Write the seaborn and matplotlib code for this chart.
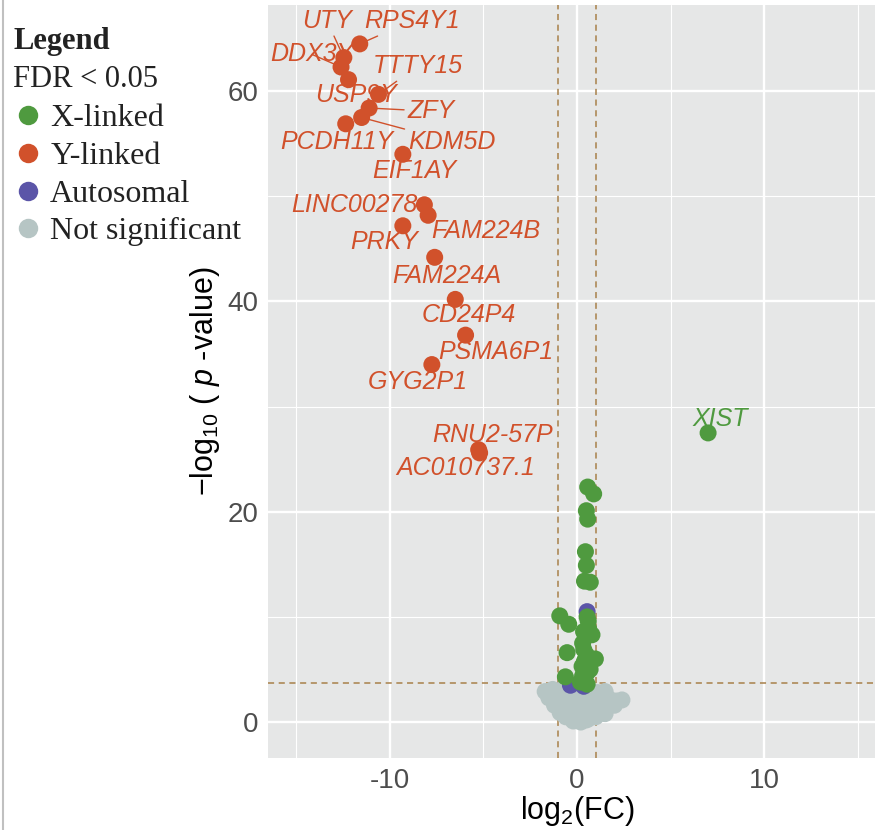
import numpy as np
import pandas as pd
import matplotlib
matplotlib.use('Agg')
import matplotlib.pyplot as plt
from matplotlib.lines import Line2D
import seaborn as sns

# Y-linked genes (FDR < 0.05)
y_genes = ['RPS4Y1', 'UTY', 'DDX3Y', 'USP9Y', 'TTTY15', 'ZFY', 'KDM5D', 'PCDH11Y',
           'EIF1AY', 'LINC00278', 'FAM224B', 'PRKY', 'FAM224A', 'CD24P4',
           'PSMA6P1', 'GYG2P1', 'RNU2-57P', 'AC010737.1']
y_fc = [-11.6, -12.45, -12.6, -12.2, -10.6, -11.1, -11.5, -12.35,
        -9.3, -8.15, -7.95, -9.3, -7.6, -6.5,
        -5.95, -7.75, -5.25, -5.2]
y_logp = [64.5, 63.2, 62.3, 61.1, 59.7, 58.4, 57.5, 56.9,
          54.0, 49.2, 48.2, 47.2, 44.2, 40.2,
          36.8, 34.0, 25.9, 25.6]

# X-linked genes
x_genes = ['XIST']
x_fc = [7.0, 0.57, 0.89, 0.5, 0.57, 0.45, 0.5, 0.4, 0.71, -0.92, -0.44, 0.54, 0.62,
        0.45, 0.8, -0.53, 0.36, 0.62, 0.98, 0.27, 0.54, -0.62, 0.18, 0.54, 0.3,
        0.5, 0.4, 0.7, 0.3, 0.6, 0.35]
x_logp = [27.5, 22.35, 21.7, 20.1, 19.3, 16.2, 14.9, 13.4, 13.3, 10.1, 9.3, 10.0, 8.9,
          8.1, 8.3, 6.6, 6.9, 6.0, 6.0, 5.3, 4.7, 4.3, 3.8, 3.6, 7.5,
          6.4, 5.8, 5.0, 4.4, 9.6, 8.6]

# autosomal genes
a_fc = [0.54, -0.35, 0.36, 0.2, 0.5]
a_logp = [10.5, 3.5, 3.4, 3.7, 5.0]

# not significant
n_fc = [-1.7, -1.3, -0.9, -0.5, -0.1, 0.3, 0.7, 1.1, 1.5,
        -1.5, -1.1, -0.7, -0.3, 0.1, 0.5, 0.9, 1.3, 1.7, 2.1, 2.4,
        -1.2, -0.8, -0.4, 0.0, 0.4, 0.8, 1.2, 1.6, 2.0,
        -0.9, -0.5, -0.1, 0.3, 0.7, 1.1, 1.5,
        -0.6, -0.2, 0.2, 0.6, 1.0,
        -0.2, 0.2, 0.5]
n_logp = [2.9, 3.1, 3.0, 3.2, 2.9, 3.1, 3.0, 2.8, 2.9,
          2.3, 2.1, 2.4, 2.2, 2.0, 2.3, 2.1, 2.4, 2.2, 2.0, 2.1,
          1.6, 1.5, 1.7, 1.4, 1.6, 1.5, 1.7, 1.4, 1.6,
          0.9, 1.0, 0.8, 1.0, 0.9, 1.1, 0.8,
          0.5, 0.4, 0.5, 0.3, 0.5,
          0.1, 0.0, 0.2]

fc_cut = 1
p_cut = 3.7

groups = ['X-linked', 'Y-linked', 'Autosomal', 'Not significant']
colores = {'X-linked': '#4f9a3f', 'Y-linked': '#d1512b',
           'Autosomal': '#5b55a8', 'Not significant': '#b6c5c4'}

# donde van las etiquetas (tipo ggrepel), en unidades de datos
label_pos = {
    'UTY': (-13.35, 66.7), 'RPS4Y1': (-8.8, 66.7), 'DDX3Y': (-14.15, 63.5),
    'TTTY15': (-8.5, 62.4), 'USP9Y': (-11.8, 59.6), 'ZFY': (-7.8, 58.1),
    'PCDH11Y': (-12.85, 55.2), 'KDM5D': (-6.7, 55.2), 'EIF1AY': (-8.7, 52.4),
    'LINC00278': (-11.9, 49.2), 'FAM224B': (-4.85, 46.7), 'PRKY': (-10.3, 45.7),
    'FAM224A': (-6.95, 42.4), 'CD24P4': (-5.8, 38.7), 'PSMA6P1': (-4.35, 35.2),
    'GYG2P1': (-8.5, 32.3), 'RNU2-57P': (-4.5, 27.3), 'AC010737.1': (-5.95, 24.2),
    'XIST': (7.65, 28.8),
}
con_segmento = ['UTY', 'RPS4Y1', 'DDX3Y', 'TTTY15', 'ZFY', 'KDM5D']

df = pd.concat([
    pd.DataFrame({'fc': n_fc, 'logp': n_logp, 'group': 'Not significant'}),
    pd.DataFrame({'fc': a_fc, 'logp': a_logp, 'group': 'Autosomal'}),
    pd.DataFrame({'fc': x_fc, 'logp': x_logp, 'group': 'X-linked'}),
    pd.DataFrame({'fc': y_fc, 'logp': y_logp, 'group': 'Y-linked'}),
], ignore_index=True)

sns.set_style('darkgrid', {'axes.facecolor': '#e6e7e7', 'grid.color': 'white'})
plt.rcParams['font.family'] = ['Liberation Sans', 'DejaVu Sans']
plt.rcParams['mathtext.fontset'] = 'custom'
plt.rcParams['mathtext.rm'] = 'Liberation Sans'
plt.rcParams['mathtext.it'] = 'Liberation Sans:italic'
plt.rcParams['axes.unicode_minus'] = False

fig = plt.figure(figsize=(8.75, 8.3), dpi=100)
ax = fig.add_axes([268 / 875, 72 / 830, 618 / 875, 753 / 830])

sns.scatterplot(data=df, x='fc', y='logp', hue='group', palette=colores,
                s=150, linewidth=0, legend=False, ax=ax, zorder=3)

ax.set_xlim(-16.5, 16.5)
ax.set_ylim(-3.42, 68.2)
ax.set_xticks([-10, 0, 10])
ax.set_yticks([0, 20, 40, 60])
ax.set_xticks([-15, -5, 5, 15], minor=True)
ax.set_yticks([10, 30, 50], minor=True)
ax.grid(which='major', color='white', linewidth=1.7)
ax.grid(which='minor', color='white', linewidth=0.8)
ax.set_axisbelow(True)
for s in ax.spines.values():
    s.set_visible(False)
ax.tick_params(which='major', length=4, width=1, color='#333333',
               labelsize=20, labelcolor='#4d4d4d', pad=3)
ax.tick_params(which='minor', length=0)

# umbrales
for v in [-fc_cut, fc_cut]:
    ax.axvline(v, color='#a8804a', linestyle=(0, (4, 3)), linewidth=1.1, zorder=2)
ax.axhline(p_cut, color='#a8804a', linestyle=(0, (4, 3)), linewidth=1.1, zorder=2)

# etiquetas de genes
todos = dict(zip(y_genes, zip(y_fc, y_logp)))
todos['XIST'] = (x_fc[0], x_logp[0])
for g, (px, py) in todos.items():
    col = colores['X-linked'] if g == 'XIST' else colores['Y-linked']
    tx, ty = label_pos[g]
    ap = None
    if g in con_segmento:
        ap = dict(arrowstyle='-', color=col, lw=1.0, shrinkA=0, shrinkB=5)
    ax.annotate(g, xy=(px, py), xytext=(tx, ty), ha='center', va='center',
                fontsize=18, fontstyle='italic', color=col, arrowprops=ap, zorder=4)

ax.set_xlabel('log$_2$(FC)', fontsize=22, color='black', labelpad=0)
ax.set_ylabel('\u2212log$_{10}$ ( $p$ -value)', fontsize=22, color='black', labelpad=4)

# leyenda a la izquierda, en serif
serif = ['Liberation Serif', 'DejaVu Serif']
fig.text(13 / 875, 1 - 49 / 830, 'Legend', fontsize=22, fontweight='bold',
         family=serif, color='#222222', va='baseline')
fig.text(13 / 875, 1 - 87 / 830, 'FDR < 0.05', fontsize=22,
         family=serif, color='#222222', va='baseline')
handles = [Line2D([], [], marker='o', linestyle='', markersize=14,
                  markerfacecolor=colores[g], markeredgewidth=0) for g in groups]
fig.legend(handles, groups, loc='upper left', bbox_to_anchor=(15 / 875, 1 - 104 / 830),
           frameon=False, prop={'family': serif, 'size': 23}, handlelength=0.8,
           handletextpad=0.3, labelspacing=0.26, borderaxespad=0, borderpad=0,
           labelcolor='#222222')

fig.add_artist(Line2D([2.5 / 875, 2.5 / 875], [0, 1], color='#c0c0c0', linewidth=1.5))

fig.savefig('out.png', dpi=100)
plt.close()
